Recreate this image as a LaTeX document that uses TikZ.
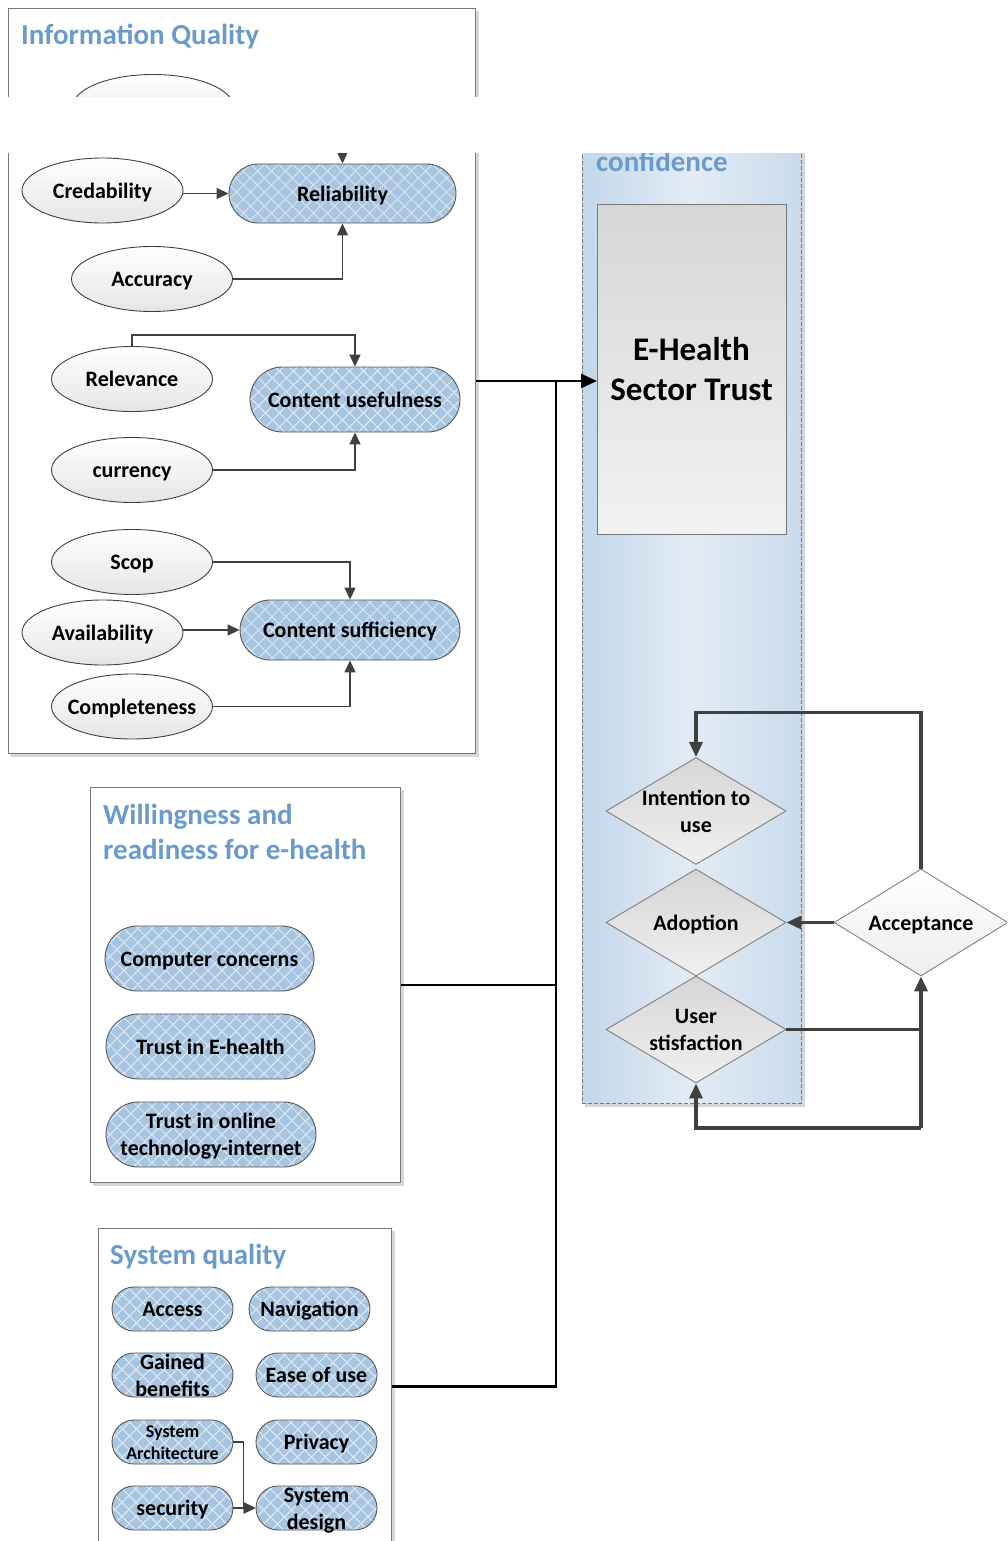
\documentclass[tikz,border=0pt]{standalone}
\usepackage{fontspec}
\setmainfont{Carlito}
\usetikzlibrary{shapes.geometric,shapes.misc,patterns.meta,arrows.meta}
\definecolor{ttl}{RGB}{106,155,203}
\definecolor{pillblue}{RGB}{167,196,224}
\definecolor{hatch}{RGB}{214,228,241}
\definecolor{lnk}{RGB}{64,64,64}
\definecolor{bord}{RGB}{120,120,120}
\definecolor{shad}{RGB}{215,215,215}
\definecolor{confL}{RGB}{195,215,234}
\definecolor{confR}{RGB}{201,219,236}
\definecolor{confM}{RGB}{227,236,245}
\newcommand{\zb}[1]{\makebox[0pt]{\raisebox{0pt}[15pt][0pt]{#1}}}
\newcommand{\twol}[2]{\makebox[0pt]{\raisebox{0pt}[15pt][27pt]{\begin{tabular}[t]{@{}c@{}}#1\\#2\end{tabular}}}}
\newcommand{\twos}[2]{\makebox[0pt]{\raisebox{0pt}[12pt][22pt]{\begin{tabular}[t]{@{}c@{}}#1\\#2\end{tabular}}}}
\begin{document}
\begin{tikzpicture}[x=1pt,y=-1pt,
  nf/.style={font=\fontsize{22}{27}\selectfont\bfseries},
  ttlf/.style={font=\fontsize{29}{35}\selectfont\bfseries, text=ttl, inner sep=0pt},
  ell/.style={ellipse, draw=lnk, line width=0.9pt, top color=white, bottom color=black!10,
    minimum width=161, minimum height=65, inner sep=0pt, nf},
  pill/.style={rounded rectangle, draw=black!65, line width=0.9pt, inner sep=0pt, nf,
    preaction={fill=pillblue},
    preaction={pattern={Lines[angle=45,distance=10.5pt,line width=1.3pt]}, pattern color=hatch},
    preaction={pattern={Lines[angle=-45,distance=10.5pt,line width=1.3pt]}, pattern color=hatch}},
  sz/.style 2 args={minimum width=#1, minimum height=#2},
  boxx/.style={rectangle, draw=bord, line width=1pt, fill=white, inner sep=0pt, anchor=north west},
  dia/.style={diamond, draw=black!50, line width=0.9pt, top color=black!16, bottom color=black!6,
    inner sep=0pt, minimum width=180, minimum height=107},
  dtxt/.style={nf, align=center, inner sep=0pt},
  tarr/.style={draw=lnk, line width=1.6pt, -{Triangle[length=12pt,width=11pt]}},
  big/.style={draw=black, line width=2.6pt},
  bigarr/.style={big, -{Triangle[length=16pt,width=14pt]}},
  lp/.style={draw=lnk, line width=3.3pt},
  lparr/.style={lp, -{Triangle[length=15pt,width=13pt]}}
]
\useasboundingbox (0,0) rectangle (1007,1541);
\clip (0,0) rectangle (1007,1541);

% ---------- boxes ----------
\fill[shad] (11,11) rectangle (478.5,756.5);
\node[boxx, minimum width=467, minimum height=745] (iq) at (8,8) {};
\fill[shad] (93,790) rectangle (403.5,1185.5);
\node[boxx, minimum width=310, minimum height=395] (wr) at (90,787) {};
\fill[shad] (101,1231) rectangle (394.5,1560);
\node[boxx, minimum width=293, minimum height=316] (sq) at (98,1228) {};
\fill[shad] (585,110) rectangle (805,1106.5);
\node[anchor=north west, minimum width=219, minimum height=993, inner sep=0pt,
  draw=bord, dash pattern=on 4pt off 2pt, line width=0.8pt,
  left color=confL, right color=confR, middle color=confM] (conf) at (582,110) {};

% ---------- titles ----------
\node[ttlf, anchor=base west] (iqt) at (21,45) {Information Quality};
\node[ttlf, anchor=base west] (wrt1) at (103,824) {Willingness and};
\node[ttlf, anchor=base west] (wrt2) at (103,859) {readiness for e-health};
\node[ttlf, anchor=base west] (sqt) at (110,1264) {System quality};
\node[ttlf, anchor=base west] (cft) at (596,172) {confidence};

% ---------- E-Health ----------
\node[anchor=north west, minimum width=189, minimum height=330, inner sep=0pt,
  draw=bord, line width=1.2pt, top color=black!16, bottom color=black!5] (eh) at (597,204) {};
\node[font=\fontsize{33}{40}\selectfont\bfseries, align=center, inner sep=0pt] (eht) at (691.5,369) {E-Health\\Sector Trust};

% ---------- information quality ----------
\node[ell] (topell) at (153,107) {};
\node[ell] (cred) at (102.5,190.5) {\zb{Credability}};
\node[ell] (accu) at (152,279) {\zb{Accuracy}};
\node[ell] (rel) at (132,379) {\zb{Relevance}};
\node[ell] (cur) at (132,470) {\zb{currency}};
\node[ell] (scop) at (132,562) {\zb{Scop}};
\node[ell] (avail) at (102.5,632.5) {\zb{Availability}};
\node[ell] (comp) at (132,706.5) {\zb{Completeness}};

\node[pill, sz={227}{59}] (reli) at (342.5,193.5) {\zb{Reliability}};
\node[pill, sz={210}{65}] (cu) at (355,399.5) {\zb{Content usefulness}};
\node[pill, sz={220}{60}] (cs) at (350,630) {\zb{Content sufficiency}};

\coordinate (topin) at (342,120);
\draw[tarr] (topin) -- (reli.north);
\draw[tarr] (cred.east |- reli.west) -- (reli.west);
\draw[tarr] (accu.east) -| (reli.south);
\draw[tarr] (rel.north) -- ++(0,-11) -| (cu.north);
\draw[tarr] (cur.east) -| (cu.south);
\draw[tarr] (scop.east) -| (cs.north);
\draw[tarr] (avail.east |- cs.west) -- (cs.west);
\draw[tarr] (comp.east) -| (cs.south);

% ---------- willingness ----------
\node[pill, sz={209}{65}] (cc) at (209.5,958.5) {\zb{Computer concerns}};
\node[pill, sz={209}{65}] (te) at (210.5,1046.5) {\zb{Trust in E-health}};
\node[pill, sz={210}{65}] (tol) at (211,1134.5) {\twol{Trust in online}{technology-internet}};

% ---------- system quality ----------
\node[pill, sz={121}{44}] (acs) at (172.5,1309) {\zb{Access}};
\node[pill, sz={121}{44}] (nav) at (309.5,1309) {\zb{Navigation}};
\node[pill, sz={121}{44}] (gb) at (172.5,1375) {\twol{Gained}{benefits}};
\node[pill, sz={121}{44}] (eou) at (316.5,1375) {\zb{Ease of use}};
\node[pill, sz={121}{44}, font=\fontsize{18}{22}\selectfont\bfseries] (sa) at (172.5,1442) {\twos{System}{Architecture}};
\node[pill, sz={121}{44}] (priv) at (316.5,1442) {\zb{Privacy}};
\node[pill, sz={121}{44}] (sec) at (172.5,1508) {\zb{security}};
\node[pill, sz={121}{44}] (sd) at (316.5,1508) {\twol{System}{design}};
\draw[tarr] (sa.east) -- ++(10,0) |- (sd.west);
\draw[tarr] (sec.east) -- (sd.west);

% ---------- main connectors ----------
\coordinate (jx) at (556,380.5);
\draw[bigarr] (iq.east) -- (iq.east -| eh.west);
\draw[big] (wr.east) -| (jx);
\draw[big] (sq.east) -| (jx);

% ---------- diamonds ----------
\node[dia] (it) at (696,811) {};
\node[dia] (ad) at (696,922.5) {};
\node[dia] (us) at (696,1029.5) {};
\node[dia, minimum width=174, top color=white, bottom color=black!7] (ac) at (921,922.5) {};
\node[dtxt] (itt) at (it) {Intention to\\use};
\node[dtxt] (adt) at (ad) {\zb{Adoption}};
\node[dtxt] (ust) at (us) {User\\stisfaction};
\node[dtxt] (act) at (ac) {\zb{Acceptance}};

\draw[lparr] (ac.north) -- ++(0,-156) -| (it.north);
\draw[lparr] (ac.west) -- (ad.east);
\draw[lparr] (us.east) -| (ac.south);
\coordinate (lb) at (921,1128);
\draw[lp] (lb) -- (lb |- us.east);
\draw[lparr] (lb) -| (us.south);

% ---------- blank band ----------
\fill[white] (0,97) rectangle (1007,153);
\end{tikzpicture}
\end{document}
